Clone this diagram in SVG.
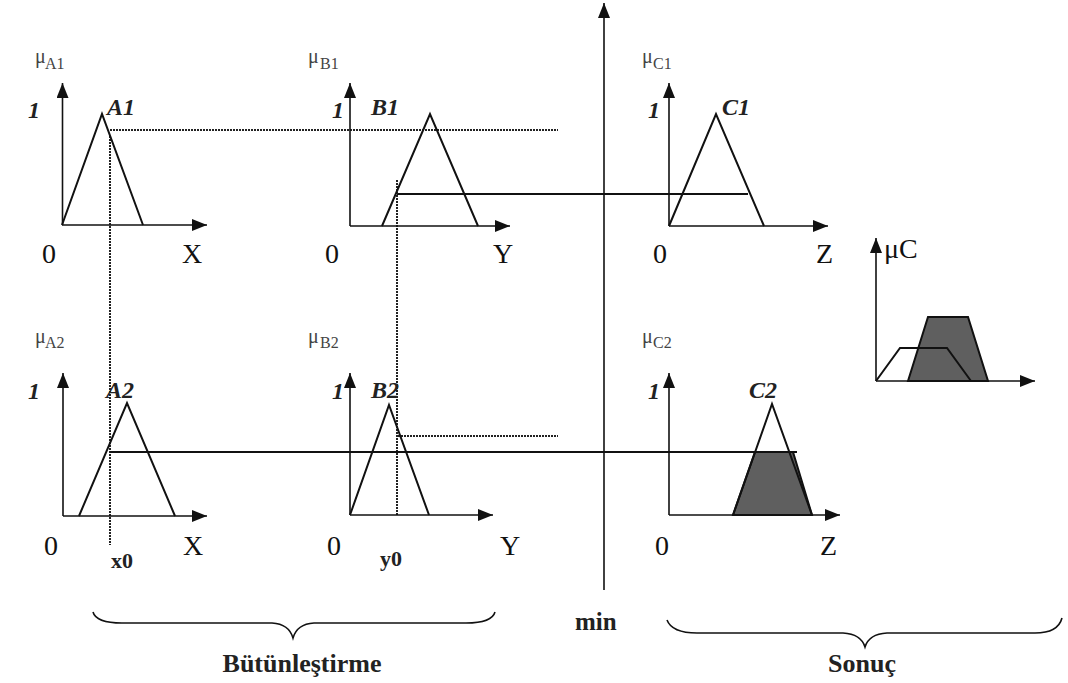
<svg xmlns="http://www.w3.org/2000/svg" width="1068" height="683" viewBox="0 0 1068 683">
<style>
.ax{stroke:#111;stroke-width:1.6;fill:none}
.mf{stroke:#111;stroke-width:2;fill:none;stroke-linejoin:miter}
.fill{stroke:#111;stroke-width:2;fill:#5f5f5f}
.dot{stroke:#222;stroke-width:2;stroke-dasharray:2 1;fill:none}
.sol{stroke:#111;stroke-width:1.8;fill:none}
.br{stroke:#111;stroke-width:1.6;fill:none}
.lbl{font-family:"Liberation Serif",serif;font-size:28px;fill:#111}
.one{font-family:"Liberation Serif",serif;font-size:24px;font-weight:bold;font-style:italic;fill:#222}
.mu{font-family:"Liberation Serif",serif;font-size:20px;fill:#444}
.sub{font-family:"Liberation Serif",serif;font-size:16px;fill:#444}
.bold{font-family:"Liberation Serif",serif;font-weight:bold;fill:#222}
</style>
<defs>
<marker id="arr" markerUnits="userSpaceOnUse" markerWidth="16" markerHeight="12" refX="15" refY="6" orient="auto">
<path d="M0,0 L15,6 L0,12 Z" fill="#111"/>
</marker>
</defs>

<g id="main-axis">
<line class="ax" x1="604" y1="590" x2="604" y2="3" marker-end="url(#arr)"/>
</g>

<g id="connectors">
<line class="dot" x1="110" y1="130" x2="558" y2="130"/>
<line class="dot" x1="110" y1="136" x2="110" y2="545"/>
<line class="sol" x1="397" y1="194" x2="748" y2="194"/>
<line class="dot" x1="397" y1="180" x2="397" y2="515"/>
<line class="dot" x1="398" y1="436" x2="558" y2="436"/>
<line class="sol" x1="110" y1="452" x2="797" y2="452"/>
</g>

<g id="A1">
<line class="ax" x1="62.5" y1="225" x2="62.5" y2="83" marker-end="url(#arr)"/>
<line class="ax" x1="62" y1="225" x2="207" y2="225" marker-end="url(#arr)"/>
<polyline class="mf" points="62,225 102,114 143,225"/>
<text class="mu" x="35" y="63">μ</text><text class="sub" x="45" y="69">A1</text>
<text class="one" x="28" y="118">1</text>
<text class="one" x="107" y="115">A1</text>
<text class="lbl" x="42" y="263">0</text>
<text class="lbl" x="182" y="263">X</text>
</g>

<g id="B1">
<line class="ax" x1="350" y1="226" x2="350" y2="83" marker-end="url(#arr)"/>
<line class="ax" x1="350" y1="226" x2="510" y2="226" marker-end="url(#arr)"/>
<polyline class="mf" points="382,226 430,114 478,226"/>
<text class="mu" x="308" y="63">μ</text><text class="sub" x="320" y="69">B1</text>
<text class="one" x="332" y="118">1</text>
<text class="one" x="371" y="115">B1</text>
<text class="lbl" x="325" y="263">0</text>
<text class="lbl" x="493" y="263">Y</text>
</g>

<g id="C1">
<line class="ax" x1="669" y1="226" x2="669" y2="83" marker-end="url(#arr)"/>
<line class="ax" x1="669" y1="226" x2="828" y2="226" marker-end="url(#arr)"/>
<polyline class="mf" points="669,226 716,114 764,226"/>
<text class="mu" x="642" y="63">μ</text><text class="sub" x="653" y="69">C1</text>
<text class="one" x="648" y="118">1</text>
<text class="one" x="722" y="115">C1</text>
<text class="lbl" x="653" y="263">0</text>
<text class="lbl" x="816" y="263">Z</text>
</g>

<g id="A2">
<line class="ax" x1="63" y1="516" x2="63" y2="373" marker-end="url(#arr)"/>
<line class="ax" x1="63" y1="516" x2="207" y2="516" marker-end="url(#arr)"/>
<polyline class="mf" points="79,516 127,403 175,516"/>
<text class="mu" x="35" y="343">μ</text><text class="sub" x="45" y="348">A2</text>
<text class="one" x="28" y="399">1</text>
<text class="one" x="106" y="398">A2</text>
<text class="lbl" x="44" y="555">0</text>
<text class="lbl" x="183" y="555">X</text>
<text class="bold" x="111" y="568" font-size="22">x0</text>
</g>

<g id="B2">
<line class="ax" x1="350" y1="515" x2="350" y2="373" marker-end="url(#arr)"/>
<line class="ax" x1="350" y1="515" x2="493" y2="515" marker-end="url(#arr)"/>
<polyline class="mf" points="350,515 389,405 429,515"/>
<text class="mu" x="308" y="343">μ</text><text class="sub" x="320" y="348">B2</text>
<text class="one" x="332" y="399">1</text>
<text class="one" x="371" y="398">B2</text>
<text class="lbl" x="327" y="555">0</text>
<text class="lbl" x="500" y="555">Y</text>
<text class="bold" x="380" y="566" font-size="22">y0</text>
</g>

<g id="C2">
<line class="ax" x1="669" y1="515" x2="669" y2="373" marker-end="url(#arr)"/>
<line class="ax" x1="669" y1="515" x2="840" y2="515" marker-end="url(#arr)"/>
<polygon class="fill" points="733,515 755,452 793,452 812,515"/>
<polyline class="mf" points="733,515 772,404 812,515"/>
<text class="mu" x="642" y="343">μ</text><text class="sub" x="653" y="348">C2</text>
<text class="one" x="648" y="399">1</text>
<text class="one" x="749" y="398">C2</text>
<text class="lbl" x="655" y="555">0</text>
<text class="lbl" x="820" y="555">Z</text>
</g>

<g id="muC">
<line class="ax" x1="876" y1="381" x2="876" y2="238" marker-end="url(#arr)"/>
<line class="ax" x1="876" y1="381" x2="1035" y2="381" marker-end="url(#arr)"/>
<polygon class="fill" points="908,381 928,317 968,317 988,381"/>
<polyline class="mf" points="876,381 900,348 947,348 971,381"/>
<text class="lbl" x="884" y="258" font-size="25">μC</text>
</g>

<g id="min">
<text class="bold" x="575" y="630" font-size="25">min</text>
</g>

<g id="butunlestirme">
<path class="br" d="M93,612 Q96,623 122,623 L272,623 Q289,624 293,638 Q297,624 314,623 L466,623 Q492,623 495,612"/>
<text class="bold" x="302" y="672" font-size="26" text-anchor="middle">Bütünleştirme</text>
</g>

<g id="sonuc">
<path class="br" d="M667,620 Q672,633 697,633 L843,633 Q861,634 865,647 Q869,634 887,633 L1035,633 Q1058,633 1062,618"/>
<text class="bold" x="862" y="672" font-size="26" text-anchor="middle">Sonuç</text>
</g>
</svg>
